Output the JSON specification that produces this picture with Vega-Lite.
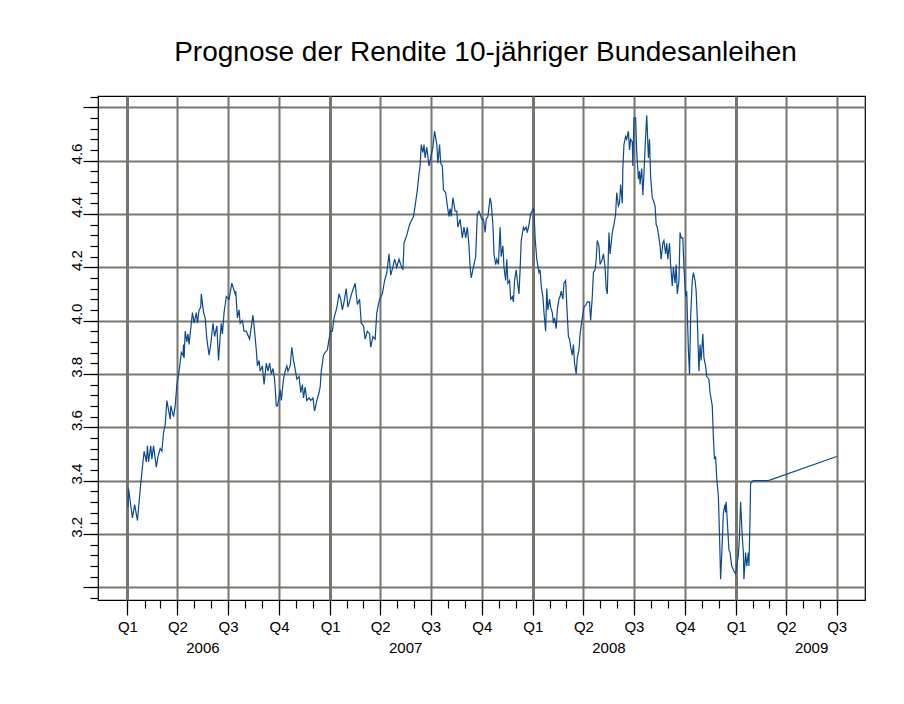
{
  "$schema": "https://vega.github.io/schema/vega-lite/v6.json",
  "width": 767,
  "height": 504,
  "autosize": {"type": "none"},
  "padding": {"left": 98, "top": 96, "right": 39, "bottom": 104},
  "background": "white",
  "title": {"text": "Prognose der Rendite 10-jähriger Bundesanleihen", "fontSize": 28, "fontWeight": "normal", "font": "Liberation Sans", "color": "black", "anchor": "middle", "offset": 29, "dx": 4},
  "config": {"font": "Liberation Sans", "view": {"stroke": "black", "strokeWidth": 1.2}},
  "data": {"values": [
    {"date": "2006-01-02", "rendite": 3.30}, {"date": "2006-01-03", "rendite": 3.37}, {"date": "2006-01-10", "rendite": 3.26}, {"date": "2006-01-14", "rendite": 3.31}, {"date": "2006-01-19", "rendite": 3.25}, {"date": "2006-01-25", "rendite": 3.39}, {"date": "2006-01-31", "rendite": 3.51},
    {"date": "2006-02-04", "rendite": 3.47}, {"date": "2006-02-06", "rendite": 3.53}, {"date": "2006-02-08", "rendite": 3.47}, {"date": "2006-02-12", "rendite": 3.53}, {"date": "2006-02-14", "rendite": 3.48}, {"date": "2006-02-17", "rendite": 3.53}, {"date": "2006-02-22", "rendite": 3.45}, {"date": "2006-02-25", "rendite": 3.49},
    {"date": "2006-03-01", "rendite": 3.52}, {"date": "2006-03-04", "rendite": 3.51}, {"date": "2006-03-07", "rendite": 3.58}, {"date": "2006-03-10", "rendite": 3.61}, {"date": "2006-03-13", "rendite": 3.70}, {"date": "2006-03-19", "rendite": 3.63}, {"date": "2006-03-20", "rendite": 3.68}, {"date": "2006-03-25", "rendite": 3.64}, {"date": "2006-03-28", "rendite": 3.68}, {"date": "2006-03-31", "rendite": 3.76},
    {"date": "2006-04-04", "rendite": 3.81}, {"date": "2006-04-08", "rendite": 3.88}, {"date": "2006-04-11", "rendite": 3.87}, {"date": "2006-04-12", "rendite": 3.91}, {"date": "2006-04-13", "rendite": 3.86}, {"date": "2006-04-15", "rendite": 3.96}, {"date": "2006-04-18", "rendite": 3.92}, {"date": "2006-04-20", "rendite": 3.95}, {"date": "2006-04-22", "rendite": 3.91}, {"date": "2006-04-24", "rendite": 3.95}, {"date": "2006-04-28", "rendite": 4.03},
    {"date": "2006-05-01", "rendite": 3.99}, {"date": "2006-05-05", "rendite": 4.03}, {"date": "2006-05-07", "rendite": 3.99}, {"date": "2006-05-10", "rendite": 4.04}, {"date": "2006-05-13", "rendite": 4.05}, {"date": "2006-05-14", "rendite": 4.10}, {"date": "2006-05-18", "rendite": 4.03}, {"date": "2006-05-21", "rendite": 4.01}, {"date": "2006-05-24", "rendite": 3.93}, {"date": "2006-05-28", "rendite": 3.87}, {"date": "2006-05-31", "rendite": 3.91},
    {"date": "2006-06-04", "rendite": 3.99}, {"date": "2006-06-07", "rendite": 3.94}, {"date": "2006-06-11", "rendite": 3.98}, {"date": "2006-06-14", "rendite": 3.85}, {"date": "2006-06-17", "rendite": 3.94}, {"date": "2006-06-19", "rendite": 3.99}, {"date": "2006-06-21", "rendite": 3.95}, {"date": "2006-06-24", "rendite": 4.03}, {"date": "2006-06-28", "rendite": 4.09},
    {"date": "2006-07-03", "rendite": 4.08}, {"date": "2006-07-08", "rendite": 4.14}, {"date": "2006-07-14", "rendite": 4.10}, {"date": "2006-07-15", "rendite": 4.11}, {"date": "2006-07-18", "rendite": 4.01}, {"date": "2006-07-21", "rendite": 4.04}, {"date": "2006-07-23", "rendite": 3.99}, {"date": "2006-07-27", "rendite": 4.00}, {"date": "2006-07-30", "rendite": 3.96},
    {"date": "2006-08-03", "rendite": 3.96}, {"date": "2006-08-09", "rendite": 3.93}, {"date": "2006-08-11", "rendite": 3.96}, {"date": "2006-08-15", "rendite": 4.02}, {"date": "2006-08-17", "rendite": 3.98}, {"date": "2006-08-21", "rendite": 3.89}, {"date": "2006-08-23", "rendite": 3.83}, {"date": "2006-08-26", "rendite": 3.85}, {"date": "2006-08-28", "rendite": 3.81},
    {"date": "2006-09-01", "rendite": 3.83}, {"date": "2006-09-04", "rendite": 3.76}, {"date": "2006-09-08", "rendite": 3.84}, {"date": "2006-09-11", "rendite": 3.81}, {"date": "2006-09-14", "rendite": 3.84}, {"date": "2006-09-17", "rendite": 3.80}, {"date": "2006-09-20", "rendite": 3.82}, {"date": "2006-09-23", "rendite": 3.78}, {"date": "2006-09-26", "rendite": 3.68}, {"date": "2006-09-28", "rendite": 3.68},
    {"date": "2006-10-01", "rendite": 3.71}, {"date": "2006-10-03", "rendite": 3.74}, {"date": "2006-10-05", "rendite": 3.70}, {"date": "2006-10-09", "rendite": 3.78}, {"date": "2006-10-12", "rendite": 3.81}, {"date": "2006-10-15", "rendite": 3.83}, {"date": "2006-10-17", "rendite": 3.81}, {"date": "2006-10-21", "rendite": 3.83}, {"date": "2006-10-24", "rendite": 3.90}, {"date": "2006-10-27", "rendite": 3.85}, {"date": "2006-10-29", "rendite": 3.83},
    {"date": "2006-11-02", "rendite": 3.78}, {"date": "2006-11-06", "rendite": 3.79}, {"date": "2006-11-09", "rendite": 3.73}, {"date": "2006-11-12", "rendite": 3.76}, {"date": "2006-11-14", "rendite": 3.71}, {"date": "2006-11-17", "rendite": 3.75}, {"date": "2006-11-20", "rendite": 3.70}, {"date": "2006-11-24", "rendite": 3.71}, {"date": "2006-11-27", "rendite": 3.70},
    {"date": "2006-12-01", "rendite": 3.71}, {"date": "2006-12-04", "rendite": 3.66}, {"date": "2006-12-08", "rendite": 3.70}, {"date": "2006-12-12", "rendite": 3.73}, {"date": "2006-12-14", "rendite": 3.75}, {"date": "2006-12-16", "rendite": 3.81}, {"date": "2006-12-20", "rendite": 3.87}, {"date": "2006-12-23", "rendite": 3.88}, {"date": "2006-12-27", "rendite": 3.89}, {"date": "2006-12-30", "rendite": 3.93},
    {"date": "2007-01-02", "rendite": 3.96}, {"date": "2007-01-05", "rendite": 3.96}, {"date": "2007-01-08", "rendite": 4.01}, {"date": "2007-01-12", "rendite": 4.04}, {"date": "2007-01-14", "rendite": 4.06}, {"date": "2007-01-17", "rendite": 4.10}, {"date": "2007-01-20", "rendite": 4.08}, {"date": "2007-01-23", "rendite": 4.04}, {"date": "2007-01-26", "rendite": 4.07}, {"date": "2007-01-30", "rendite": 4.12},
    {"date": "2007-02-02", "rendite": 4.05}, {"date": "2007-02-06", "rendite": 4.08}, {"date": "2007-02-10", "rendite": 4.11}, {"date": "2007-02-15", "rendite": 4.14}, {"date": "2007-02-19", "rendite": 4.06}, {"date": "2007-02-23", "rendite": 4.08}, {"date": "2007-02-26", "rendite": 3.99},
    {"date": "2007-03-02", "rendite": 3.98}, {"date": "2007-03-05", "rendite": 3.93}, {"date": "2007-03-09", "rendite": 3.96}, {"date": "2007-03-13", "rendite": 3.95}, {"date": "2007-03-15", "rendite": 3.90}, {"date": "2007-03-19", "rendite": 3.94}, {"date": "2007-03-23", "rendite": 3.93}, {"date": "2007-03-26", "rendite": 4.03}, {"date": "2007-03-31", "rendite": 4.08},
    {"date": "2007-04-05", "rendite": 4.10}, {"date": "2007-04-09", "rendite": 4.15}, {"date": "2007-04-13", "rendite": 4.18}, {"date": "2007-04-17", "rendite": 4.25}, {"date": "2007-04-20", "rendite": 4.17}, {"date": "2007-04-24", "rendite": 4.20}, {"date": "2007-04-27", "rendite": 4.23},
    {"date": "2007-05-01", "rendite": 4.20}, {"date": "2007-05-05", "rendite": 4.23}, {"date": "2007-05-08", "rendite": 4.21}, {"date": "2007-05-12", "rendite": 4.19}, {"date": "2007-05-14", "rendite": 4.29}, {"date": "2007-05-19", "rendite": 4.32}, {"date": "2007-05-24", "rendite": 4.36}, {"date": "2007-05-31", "rendite": 4.39},
    {"date": "2007-06-03", "rendite": 4.43}, {"date": "2007-06-07", "rendite": 4.49}, {"date": "2007-06-10", "rendite": 4.55}, {"date": "2007-06-12", "rendite": 4.58}, {"date": "2007-06-14", "rendite": 4.66}, {"date": "2007-06-17", "rendite": 4.63}, {"date": "2007-06-19", "rendite": 4.66}, {"date": "2007-06-21", "rendite": 4.61}, {"date": "2007-06-24", "rendite": 4.65}, {"date": "2007-06-28", "rendite": 4.58},
    {"date": "2007-07-01", "rendite": 4.61}, {"date": "2007-07-05", "rendite": 4.65}, {"date": "2007-07-08", "rendite": 4.71}, {"date": "2007-07-12", "rendite": 4.66}, {"date": "2007-07-14", "rendite": 4.59}, {"date": "2007-07-17", "rendite": 4.66}, {"date": "2007-07-19", "rendite": 4.59}, {"date": "2007-07-22", "rendite": 4.58}, {"date": "2007-07-24", "rendite": 4.49}, {"date": "2007-07-28", "rendite": 4.48}, {"date": "2007-07-31", "rendite": 4.43},
    {"date": "2007-08-03", "rendite": 4.39}, {"date": "2007-08-05", "rendite": 4.42}, {"date": "2007-08-07", "rendite": 4.39}, {"date": "2007-08-10", "rendite": 4.46}, {"date": "2007-08-14", "rendite": 4.41}, {"date": "2007-08-17", "rendite": 4.41}, {"date": "2007-08-19", "rendite": 4.35}, {"date": "2007-08-23", "rendite": 4.38}, {"date": "2007-08-27", "rendite": 4.31}, {"date": "2007-08-30", "rendite": 4.35},
    {"date": "2007-09-02", "rendite": 4.31}, {"date": "2007-09-05", "rendite": 4.35}, {"date": "2007-09-08", "rendite": 4.28}, {"date": "2007-09-10", "rendite": 4.20}, {"date": "2007-09-12", "rendite": 4.16}, {"date": "2007-09-16", "rendite": 4.20}, {"date": "2007-09-20", "rendite": 4.24}, {"date": "2007-09-23", "rendite": 4.40}, {"date": "2007-09-26", "rendite": 4.41}, {"date": "2007-09-28", "rendite": 4.40},
    {"date": "2007-10-01", "rendite": 4.38}, {"date": "2007-10-04", "rendite": 4.38}, {"date": "2007-10-07", "rendite": 4.33}, {"date": "2007-10-09", "rendite": 4.38}, {"date": "2007-10-12", "rendite": 4.39}, {"date": "2007-10-16", "rendite": 4.46}, {"date": "2007-10-18", "rendite": 4.44}, {"date": "2007-10-21", "rendite": 4.36}, {"date": "2007-10-23", "rendite": 4.25}, {"date": "2007-10-26", "rendite": 4.21}, {"date": "2007-10-28", "rendite": 4.23}, {"date": "2007-10-31", "rendite": 4.21},
    {"date": "2007-11-03", "rendite": 4.35}, {"date": "2007-11-05", "rendite": 4.24}, {"date": "2007-11-08", "rendite": 4.28}, {"date": "2007-11-10", "rendite": 4.20}, {"date": "2007-11-13", "rendite": 4.15}, {"date": "2007-11-15", "rendite": 4.23}, {"date": "2007-11-17", "rendite": 4.14}, {"date": "2007-11-20", "rendite": 4.15}, {"date": "2007-11-22", "rendite": 4.08}, {"date": "2007-11-25", "rendite": 4.09}, {"date": "2007-11-27", "rendite": 4.07}, {"date": "2007-11-29", "rendite": 4.15},
    {"date": "2007-12-02", "rendite": 4.19}, {"date": "2007-12-04", "rendite": 4.15}, {"date": "2007-12-07", "rendite": 4.10}, {"date": "2007-12-09", "rendite": 4.19}, {"date": "2007-12-11", "rendite": 4.30}, {"date": "2007-12-15", "rendite": 4.35}, {"date": "2007-12-17", "rendite": 4.34}, {"date": "2007-12-20", "rendite": 4.35}, {"date": "2007-12-22", "rendite": 4.33}, {"date": "2007-12-25", "rendite": 4.36}, {"date": "2007-12-28", "rendite": 4.40},
    {"date": "2008-01-02", "rendite": 4.42}, {"date": "2008-01-03", "rendite": 4.41}, {"date": "2008-01-05", "rendite": 4.31}, {"date": "2008-01-08", "rendite": 4.23}, {"date": "2008-01-12", "rendite": 4.18}, {"date": "2008-01-14", "rendite": 4.19}, {"date": "2008-01-16", "rendite": 4.13}, {"date": "2008-01-19", "rendite": 4.09}, {"date": "2008-01-21", "rendite": 4.03}, {"date": "2008-01-24", "rendite": 3.96}, {"date": "2008-01-26", "rendite": 4.12}, {"date": "2008-01-28", "rendite": 4.04}, {"date": "2008-01-31", "rendite": 4.08},
    {"date": "2008-02-02", "rendite": 4.05}, {"date": "2008-02-05", "rendite": 4.03}, {"date": "2008-02-07", "rendite": 3.99}, {"date": "2008-02-09", "rendite": 4.01}, {"date": "2008-02-12", "rendite": 3.97}, {"date": "2008-02-14", "rendite": 4.04}, {"date": "2008-02-17", "rendite": 4.08}, {"date": "2008-02-19", "rendite": 4.09}, {"date": "2008-02-21", "rendite": 4.11}, {"date": "2008-02-24", "rendite": 4.08}, {"date": "2008-02-26", "rendite": 4.14}, {"date": "2008-02-29", "rendite": 4.15},
    {"date": "2008-03-02", "rendite": 4.06}, {"date": "2008-03-05", "rendite": 3.94}, {"date": "2008-03-07", "rendite": 3.93}, {"date": "2008-03-09", "rendite": 3.90}, {"date": "2008-03-12", "rendite": 3.87}, {"date": "2008-03-14", "rendite": 3.91}, {"date": "2008-03-16", "rendite": 3.84}, {"date": "2008-03-19", "rendite": 3.80}, {"date": "2008-03-21", "rendite": 3.86}, {"date": "2008-03-24", "rendite": 3.89}, {"date": "2008-03-26", "rendite": 3.95}, {"date": "2008-03-30", "rendite": 4.01},
    {"date": "2008-04-02", "rendite": 4.05}, {"date": "2008-04-06", "rendite": 4.06}, {"date": "2008-04-08", "rendite": 4.07}, {"date": "2008-04-12", "rendite": 4.07}, {"date": "2008-04-14", "rendite": 4.00}, {"date": "2008-04-17", "rendite": 4.09}, {"date": "2008-04-19", "rendite": 4.18}, {"date": "2008-04-22", "rendite": 4.19}, {"date": "2008-04-24", "rendite": 4.23}, {"date": "2008-04-26", "rendite": 4.30}, {"date": "2008-04-29", "rendite": 4.28},
    {"date": "2008-05-01", "rendite": 4.21}, {"date": "2008-05-05", "rendite": 4.23}, {"date": "2008-05-07", "rendite": 4.25}, {"date": "2008-05-10", "rendite": 4.20}, {"date": "2008-05-12", "rendite": 4.12}, {"date": "2008-05-14", "rendite": 4.10}, {"date": "2008-05-17", "rendite": 4.33}, {"date": "2008-05-19", "rendite": 4.25}, {"date": "2008-05-23", "rendite": 4.33}, {"date": "2008-05-26", "rendite": 4.36}, {"date": "2008-05-29", "rendite": 4.40}, {"date": "2008-05-31", "rendite": 4.48},
    {"date": "2008-06-03", "rendite": 4.43}, {"date": "2008-06-05", "rendite": 4.44}, {"date": "2008-06-07", "rendite": 4.51}, {"date": "2008-06-10", "rendite": 4.44}, {"date": "2008-06-11", "rendite": 4.57}, {"date": "2008-06-13", "rendite": 4.66}, {"date": "2008-06-16", "rendite": 4.69}, {"date": "2008-06-18", "rendite": 4.68}, {"date": "2008-06-21", "rendite": 4.71}, {"date": "2008-06-23", "rendite": 4.64}, {"date": "2008-06-25", "rendite": 4.68}, {"date": "2008-06-28", "rendite": 4.67}, {"date": "2008-06-29", "rendite": 4.58},
    {"date": "2008-07-01", "rendite": 4.76}, {"date": "2008-07-04", "rendite": 4.76}, {"date": "2008-07-06", "rendite": 4.63}, {"date": "2008-07-09", "rendite": 4.53}, {"date": "2008-07-11", "rendite": 4.56}, {"date": "2008-07-12", "rendite": 4.51}, {"date": "2008-07-15", "rendite": 4.57}, {"date": "2008-07-17", "rendite": 4.47}, {"date": "2008-07-19", "rendite": 4.55}, {"date": "2008-07-22", "rendite": 4.69}, {"date": "2008-07-24", "rendite": 4.77}, {"date": "2008-07-27", "rendite": 4.61}, {"date": "2008-07-29", "rendite": 4.68}, {"date": "2008-07-31", "rendite": 4.54},
    {"date": "2008-08-03", "rendite": 4.46}, {"date": "2008-08-05", "rendite": 4.45}, {"date": "2008-08-08", "rendite": 4.43}, {"date": "2008-08-10", "rendite": 4.36}, {"date": "2008-08-12", "rendite": 4.35}, {"date": "2008-08-15", "rendite": 4.31}, {"date": "2008-08-17", "rendite": 4.28}, {"date": "2008-08-19", "rendite": 4.23}, {"date": "2008-08-22", "rendite": 4.29}, {"date": "2008-08-24", "rendite": 4.30}, {"date": "2008-08-27", "rendite": 4.25}, {"date": "2008-08-29", "rendite": 4.29}, {"date": "2008-08-31", "rendite": 4.23},
    {"date": "2008-09-03", "rendite": 4.29}, {"date": "2008-09-05", "rendite": 4.21}, {"date": "2008-09-08", "rendite": 4.13}, {"date": "2008-09-10", "rendite": 4.20}, {"date": "2008-09-13", "rendite": 4.14}, {"date": "2008-09-15", "rendite": 4.21}, {"date": "2008-09-17", "rendite": 4.10}, {"date": "2008-09-20", "rendite": 4.15}, {"date": "2008-09-22", "rendite": 4.33}, {"date": "2008-09-24", "rendite": 4.31}, {"date": "2008-09-27", "rendite": 4.31}, {"date": "2008-09-29", "rendite": 4.20},
    {"date": "2008-10-02", "rendite": 4.09}, {"date": "2008-10-04", "rendite": 4.11}, {"date": "2008-10-07", "rendite": 3.89}, {"date": "2008-10-09", "rendite": 3.80}, {"date": "2008-10-11", "rendite": 4.01}, {"date": "2008-10-14", "rendite": 4.15}, {"date": "2008-10-16", "rendite": 4.18}, {"date": "2008-10-19", "rendite": 4.15}, {"date": "2008-10-21", "rendite": 4.11}, {"date": "2008-10-23", "rendite": 4.01}, {"date": "2008-10-26", "rendite": 3.81}, {"date": "2008-10-28", "rendite": 3.91}, {"date": "2008-10-30", "rendite": 3.85},
    {"date": "2008-11-02", "rendite": 3.95}, {"date": "2008-11-04", "rendite": 3.86}, {"date": "2008-11-07", "rendite": 3.83}, {"date": "2008-11-09", "rendite": 3.79}, {"date": "2008-11-13", "rendite": 3.78}, {"date": "2008-11-15", "rendite": 3.73}, {"date": "2008-11-19", "rendite": 3.68}, {"date": "2008-11-21", "rendite": 3.56}, {"date": "2008-11-23", "rendite": 3.48}, {"date": "2008-11-25", "rendite": 3.49}, {"date": "2008-11-27", "rendite": 3.41}, {"date": "2008-11-30", "rendite": 3.34},
    {"date": "2008-12-02", "rendite": 3.20}, {"date": "2008-12-04", "rendite": 3.03}, {"date": "2008-12-07", "rendite": 3.17}, {"date": "2008-12-09", "rendite": 3.28}, {"date": "2008-12-12", "rendite": 3.31}, {"date": "2008-12-13", "rendite": 3.28}, {"date": "2008-12-14", "rendite": 3.32}, {"date": "2008-12-16", "rendite": 3.25}, {"date": "2008-12-19", "rendite": 3.14}, {"date": "2008-12-21", "rendite": 3.13}, {"date": "2008-12-24", "rendite": 3.08}, {"date": "2008-12-26", "rendite": 3.07}, {"date": "2008-12-28", "rendite": 3.06}, {"date": "2008-12-31", "rendite": 3.05},
    {"date": "2009-01-02", "rendite": 3.08}, {"date": "2009-01-05", "rendite": 3.12}, {"date": "2009-01-07", "rendite": 3.19}, {"date": "2009-01-09", "rendite": 3.32}, {"date": "2009-01-12", "rendite": 3.19}, {"date": "2009-01-14", "rendite": 3.13}, {"date": "2009-01-15", "rendite": 3.03}, {"date": "2009-01-18", "rendite": 3.13}, {"date": "2009-01-20", "rendite": 3.08}, {"date": "2009-01-23", "rendite": 3.13}, {"date": "2009-01-24", "rendite": 3.08}, {"date": "2009-01-26", "rendite": 3.26}, {"date": "2009-01-27", "rendite": 3.39},
    {"date": "2009-02-01", "rendite": 3.40}, {"date": "2009-02-28", "rendite": 3.40}, {"date": "2009-07-01", "rendite": 3.49}
  ]},
  "layer": [
    {
      "mark": {"type": "line", "strokeOpacity": 0},
      "encoding": {
        "x": {"field": "date", "type": "temporal", "scale": {"type": "utc", "domain": [{"year": 2005, "month": 11, "date": 9, "utc": true}, {"year": 2009, "month": 8, "date": 21, "utc": true}]},
          "axis": {"orient": "bottom", "title": null, "grid": false, "domain": false, "labels": false, "ticks": true, "tickSize": 8, "tickColor": "black", "tickWidth": 1.2, "values": [
            {"year": 2006, "month": 1, "date": 1, "utc": true}, {"year": 2006, "month": 2, "date": 1, "utc": true}, {"year": 2006, "month": 3, "date": 1, "utc": true}, {"year": 2006, "month": 4, "date": 1, "utc": true}, {"year": 2006, "month": 5, "date": 1, "utc": true}, {"year": 2006, "month": 6, "date": 1, "utc": true}, {"year": 2006, "month": 7, "date": 1, "utc": true}, {"year": 2006, "month": 8, "date": 1, "utc": true}, {"year": 2006, "month": 9, "date": 1, "utc": true}, {"year": 2006, "month": 10, "date": 1, "utc": true}, {"year": 2006, "month": 11, "date": 1, "utc": true}, {"year": 2006, "month": 12, "date": 1, "utc": true},
            {"year": 2007, "month": 1, "date": 1, "utc": true}, {"year": 2007, "month": 2, "date": 1, "utc": true}, {"year": 2007, "month": 3, "date": 1, "utc": true}, {"year": 2007, "month": 4, "date": 1, "utc": true}, {"year": 2007, "month": 5, "date": 1, "utc": true}, {"year": 2007, "month": 6, "date": 1, "utc": true}, {"year": 2007, "month": 7, "date": 1, "utc": true}, {"year": 2007, "month": 8, "date": 1, "utc": true}, {"year": 2007, "month": 9, "date": 1, "utc": true}, {"year": 2007, "month": 10, "date": 1, "utc": true}, {"year": 2007, "month": 11, "date": 1, "utc": true}, {"year": 2007, "month": 12, "date": 1, "utc": true},
            {"year": 2008, "month": 1, "date": 1, "utc": true}, {"year": 2008, "month": 2, "date": 1, "utc": true}, {"year": 2008, "month": 3, "date": 1, "utc": true}, {"year": 2008, "month": 4, "date": 1, "utc": true}, {"year": 2008, "month": 5, "date": 1, "utc": true}, {"year": 2008, "month": 6, "date": 1, "utc": true}, {"year": 2008, "month": 7, "date": 1, "utc": true}, {"year": 2008, "month": 8, "date": 1, "utc": true}, {"year": 2008, "month": 9, "date": 1, "utc": true}, {"year": 2008, "month": 10, "date": 1, "utc": true}, {"year": 2008, "month": 11, "date": 1, "utc": true}, {"year": 2008, "month": 12, "date": 1, "utc": true},
            {"year": 2009, "month": 1, "date": 1, "utc": true}, {"year": 2009, "month": 2, "date": 1, "utc": true}, {"year": 2009, "month": 3, "date": 1, "utc": true}, {"year": 2009, "month": 4, "date": 1, "utc": true}, {"year": 2009, "month": 5, "date": 1, "utc": true}, {"year": 2009, "month": 6, "date": 1, "utc": true}, {"year": 2009, "month": 7, "date": 1, "utc": true}
          ]}},
        "y": {"field": "rendite", "type": "quantitative", "scale": {"domain": [2.952, 4.842], "nice": false, "zero": false},
          "axis": {"orient": "left", "title": null, "grid": false, "domain": false, "labels": false, "ticks": true, "tickSize": 8, "tickColor": "black", "tickWidth": 1.2,
            "values": [2.96, 3.0, 3.04, 3.08, 3.12, 3.16, 3.2, 3.24, 3.28, 3.32, 3.36, 3.4, 3.44, 3.48, 3.52, 3.56, 3.6, 3.64, 3.68, 3.72, 3.76, 3.8, 3.84, 3.88, 3.92, 3.96, 4.0, 4.04, 4.08, 4.12, 4.16, 4.2, 4.24, 4.28, 4.32, 4.36, 4.4, 4.44, 4.48, 4.52, 4.56, 4.6, 4.64, 4.68, 4.72, 4.76, 4.8, 4.84]}}
      }
    },
    {
      "mark": {"type": "line", "strokeOpacity": 0},
      "encoding": {
        "x": {"field": "date", "type": "temporal",
          "axis": {"orient": "bottom", "title": null, "zindex": 0, "grid": true, "gridColor": "#76766e", "gridWidth": {"condition": {"test": "utcmonth(datum.value) === 0", "value": 3}, "value": 2}, "domain": false, "ticks": true, "tickSize": 15, "tickColor": "black", "tickWidth": 1.2, "labelPadding": 4, "labelFontSize": 15, "labelColor": "black", "labelFont": "Liberation Sans",
            "labelExpr": "'Q' + (floor(utcmonth(datum.value) / 3) + 1)",
            "values": [
              {"year": 2006, "month": 1, "date": 1, "utc": true}, {"year": 2006, "month": 4, "date": 1, "utc": true}, {"year": 2006, "month": 7, "date": 1, "utc": true}, {"year": 2006, "month": 10, "date": 1, "utc": true},
              {"year": 2007, "month": 1, "date": 1, "utc": true}, {"year": 2007, "month": 4, "date": 1, "utc": true}, {"year": 2007, "month": 7, "date": 1, "utc": true}, {"year": 2007, "month": 10, "date": 1, "utc": true},
              {"year": 2008, "month": 1, "date": 1, "utc": true}, {"year": 2008, "month": 4, "date": 1, "utc": true}, {"year": 2008, "month": 7, "date": 1, "utc": true}, {"year": 2008, "month": 10, "date": 1, "utc": true},
              {"year": 2009, "month": 1, "date": 1, "utc": true}, {"year": 2009, "month": 4, "date": 1, "utc": true}, {"year": 2009, "month": 7, "date": 1, "utc": true}
            ]}},
        "y": {"field": "rendite", "type": "quantitative",
          "axis": {"orient": "left", "title": null, "zindex": 0, "grid": true, "gridColor": "#76766e", "gridWidth": 2, "domain": false, "ticks": true, "tickSize": 15, "tickColor": "black", "tickWidth": 1.2, "labelPadding": -1, "labelOffset": -7, "labelFontSize": 15, "labelColor": "black", "labelAngle": -90, "labelAlign": "center", "labelBaseline": "bottom",
            "labelExpr": "(datum.value < 3.1 || datum.value > 4.7) ? '' : format(datum.value, '.1f')",
            "values": [3.0, 3.2, 3.4, 3.6, 3.8, 4.0, 4.2, 4.4, 4.6, 4.8]}}
      }
    },
    {
      "mark": {"type": "line", "color": "#0b4a8f", "strokeWidth": 1.2},
      "encoding": {
        "x": {"field": "date", "type": "temporal",
          "axis": {"orient": "bottom", "title": null, "grid": false, "domain": false, "ticks": false, "labelPadding": 40, "labelFontSize": 15, "labelColor": "black",
            "labelExpr": "utcyear(datum.value)",
            "values": [{"year": 2006, "month": 5, "date": 16, "utc": true}, {"year": 2007, "month": 5, "date": 16, "utc": true}, {"year": 2008, "month": 5, "date": 16, "utc": true}, {"year": 2009, "month": 5, "date": 16, "utc": true}]}},
        "y": {"field": "rendite", "type": "quantitative", "axis": null}
      }
    }
  ],
  "resolve": {"axis": {"x": "independent", "y": "independent"}}
}
